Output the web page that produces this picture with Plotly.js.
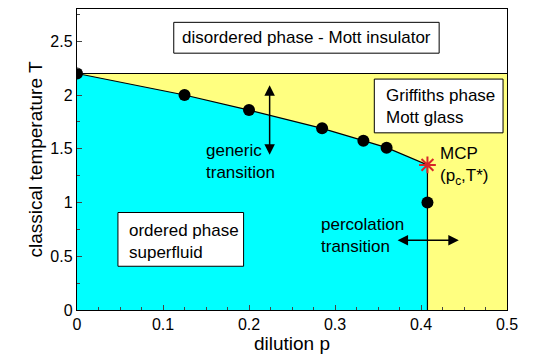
<!DOCTYPE html>
<html>
<head>
<meta charset="utf-8">
<script src="https://cdn.plot.ly/plotly-3.0.1.min.js"></script>
<style>
  body { margin: 0; background: white; }
  #phaseChart { width: 545px; height: 363px; }
</style>
</head>
<body>
<div id="phaseChart"></div>
<script>
// phase boundary points
const dilution = [0, 0.125, 0.2, 0.285, 0.333, 0.36];
const temperature = [2.2, 2.0, 1.86, 1.69, 1.575, 1.51];
const pc = 0.4075;
const Tstar = 1.35;
const percP = [0.4075];
const percT = [1.0];
const Tclean = 2.2;
const pMax = 0.5;

// boundary line incl. MCP and the vertical percolation line down to T=0
const boundaryX = dilution.concat([pc, pc]);
const boundaryY = temperature.concat([Tstar, 0]);

const traces = [
  {   // yellow Griffiths region under T=2.2
    x: [0, pMax], y: [Tclean, Tclean],
    mode: 'lines', fill: 'tozeroy', fillcolor: '#ffff80',
    line: {color: 'black', width: 1.2}, hoverinfo: 'skip'
  },
  {   // cyan ordered region
    x: boundaryX, y: boundaryY,
    mode: 'lines', fill: 'tozeroy', fillcolor: '#00ffff',
    line: {color: 'black', width: 1.2}, hoverinfo: 'skip'
  },
  {
    x: dilution.concat(percP), y: temperature.concat(percT),
    mode: 'markers', marker: {color: 'black', size: 12}
  },
  {
    x: [pc], y: [Tstar],
    mode: 'markers',
    marker: {symbol: 'asterisk-open', size: 14, line: {color: 'red', width: 2}}
  }
];

const txtFont = {family: 'Liberation Sans, Arial, sans-serif', size: 17, color: 'black'};

// label boxes
function box(x0, x1, y0, y1) {
  return {type: 'rect', xref: 'x', yref: 'y', x0: x0, x1: x1, y0: y0, y1: y1,
          fillcolor: 'white', line: {color: 'black', width: 1}};
}

function arrow(x0, y0, x1, y1) {
  return {x: x1, y: y1, ax: x0, ay: y0, axref: 'x', ayref: 'y', text: '',
          showarrow: true, arrowside: 'end+start', arrowhead: 2, arrowsize: 1.4,
          arrowwidth: 1.5, arrowcolor: 'black'};
}

const layout = {
  width: 545, height: 363,
  margin: {l: 77, r: 38, t: 9, b: 53},
  showlegend: false,
  paper_bgcolor: 'white',
  plot_bgcolor: 'white',
  font: {family: 'Liberation Sans, Arial, sans-serif', size: 16, color: 'black'},
  xaxis: {
    range: [0, pMax], dtick: 0.1, ticks: 'inside', ticklen: 5,
    minor: {dtick: 0.025, ticks: 'inside', ticklen: 3},
    showgrid: false, zeroline: false, showline: true, mirror: true,
    linecolor: 'black', linewidth: 1.2,
    title: {text: 'dilution p', font: {size: 19}, standoff: 0}
  },
  yaxis: {
    range: [0, 2.8], dtick: 0.5, ticks: 'inside', ticklen: 5,
    minor: {dtick: 0.25, ticks: 'inside', ticklen: 3},
    showgrid: false, zeroline: false, showline: true, mirror: true,
    linecolor: 'black', linewidth: 1.2,
    title: {text: 'classical temperature T', font: {size: 19}, standoff: 2}
  },
  shapes: [
    box(0.1125, 0.4211, 2.389, 2.676),
    box(0.3457, 0.4954, 1.648, 2.148),
    box(0.0476, 0.1937, 0.407, 0.907)
  ],
  annotations: [
    {x: 0.2668, y: 2.532, text: 'disordered phase - Mott insulator', showarrow: false, font: txtFont},
    {x: 0.357, y: 1.89, xanchor: 'left', text: 'Griffiths phase<br>Mott glass', showarrow: false,
     align: 'left', font: txtFont},
    {x: 0.058, y: 0.64, xanchor: 'left', text: 'ordered phase<br>superfluid', showarrow: false,
     align: 'left', font: txtFont},
    {x: 0.148, y: 1.38, xanchor: 'left', text: 'generic<br>transition', showarrow: false,
     align: 'left', font: txtFont},
    {x: 0.281, y: 0.69, xanchor: 'left', text: 'percolation<br>transition', showarrow: false,
     align: 'left', font: txtFont},
    {x: 0.42, y: 1.34, xanchor: 'left', text: 'MCP<br>(p<sub>c</sub>,T*)', showarrow: false,
     align: 'left', font: txtFont},
    arrow(0.224, 1.43, 0.224, 2.09),
    arrow(0.371, 0.648, 0.444, 0.648)
  ]
};

Plotly.newPlot('phaseChart', traces, layout, {staticPlot: true});
</script>
</body>
</html>
